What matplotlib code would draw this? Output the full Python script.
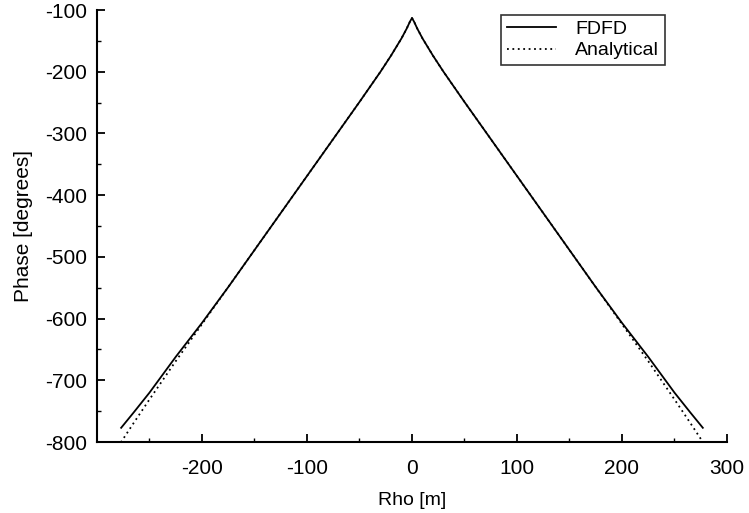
import matplotlib
matplotlib.use("Agg")
import matplotlib.pyplot as plt
import numpy as np

# one side of the (symmetric) curves, rho >= 0
rho_half = [0, 2, 5, 10, 15, 20, 30, 50, 75, 100, 125, 150, 175, 200,
            210, 225, 250, 265, 277]
fdfd_half = [-113, -119, -130, -146, -160, -174, -200, -249, -309, -369,
             -429, -489, -549, -607, -629, -662, -720, -752, -777]
anal_half = [-113, -119, -130, -146, -160, -174, -200, -249, -309, -369,
             -429, -489, -549, -609, -633, -669, -731, -769, -800]
rho_end = 280
anal_end = -808

rho = np.concatenate([-np.array(rho_half[::-1]), np.array(rho_half[1:])])
fdfd = np.concatenate([fdfd_half[::-1], fdfd_half[1:]])
rho_a = np.concatenate([[-rho_end], rho, [rho_end]])
anal = np.concatenate([[anal_end], anal_half[::-1], anal_half[1:], [anal_end]])

plt.rcParams['font.family'] = ['Liberation Sans', 'DejaVu Sans']
plt.rcParams['axes.unicode_minus'] = False

fig = plt.figure(figsize=(7.49, 5.13), dpi=100)
ax = fig.add_axes([0.1295, 0.1384, 0.8411, 0.8421])

ax.plot(rho, fdfd, color='black', lw=1.3, label='FDFD')
ax.plot(rho_a, anal, color='black', lw=1.3, ls=(0, (1, 2)), label='Analytical')

ax.set_xlim(-300, 300)
ax.set_ylim(-800, -100)
ax.set_xticks([-200, -100, 0, 100, 200, 300])
ax.set_xticks(np.arange(-250, 300, 50), minor=True)
ax.set_yticks(np.arange(-800, -99, 100))
ax.set_yticks(np.arange(-750, -100, 50), minor=True)

for s in ['top', 'right']:
    ax.spines[s].set_visible(False)
for s in ['left', 'bottom']:
    ax.spines[s].set_linewidth(1.5)

ax.tick_params(which='major', direction='in', length=6, width=1.3, labelsize=15)
ax.tick_params(axis='x', which='major', pad=12)
ax.tick_params(axis='y', which='major', pad=7)
ax.tick_params(which='minor', direction='in', length=3, width=1.0)

ax.set_xlabel('Rho [m]', fontsize=14, labelpad=10)
ax.set_ylabel('Phase [degrees]', fontsize=15, labelpad=9)

leg = ax.legend(loc='upper right', bbox_to_anchor=(0.917, 1.012), fontsize=14,
                frameon=True, fancybox=False, edgecolor='black',
                handlelength=2.5, handletextpad=1.0, borderpad=0.3,
                labelspacing=0.2)
leg.get_frame().set_linewidth(1.2)

fig.savefig('out.png', dpi=100)
